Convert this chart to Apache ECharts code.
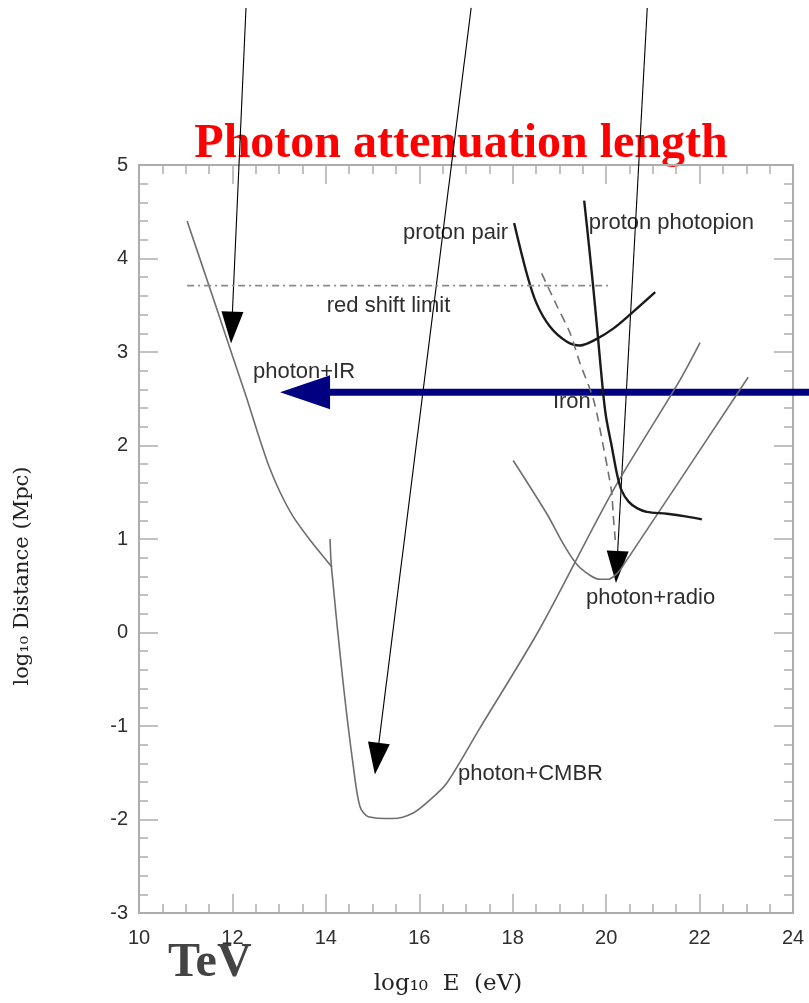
<!DOCTYPE html>
<html>
<head>
<meta charset="utf-8">
<script src="https://cdn.jsdelivr.net/npm/echarts@6/dist/echarts.min.js"></script>
<style>
  html, body { margin: 0; padding: 0; background: #fff; }
  #chart { width: 809px; height: 1003px; }
</style>
</head>
<body>
<div id="chart"></div>
<script>
// Energy (log10 eV) vs attenuation distance (log10 Mpc)
const photonIR = [
  [11.03, 4.40], [11.60, 3.56], [12.00, 2.96], [12.31, 2.50], [12.55, 2.12],
  [12.78, 1.78], [13.02, 1.50], [13.30, 1.24], [13.66, 0.99], [13.95, 0.81], [14.13, 0.70]
];
const photonCMBR = [
  [14.09, 1.00], [14.12, 0.70], [14.37, -0.54], [14.59, -1.44], [14.73, -1.86],
  [14.91, -1.97], [15.44, -1.99], [15.87, -1.93], [16.23, -1.79], [16.59, -1.61],
  [17.30, -1.02], [18.58, 0.04], [20.15, 1.52], [21.58, 2.70], [22.01, 3.10]
];
const photonRadio = [
  [18.01, 1.84], [18.73, 1.27], [19.08, 0.95], [19.37, 0.73], [19.66, 0.61],
  [19.87, 0.57], [20.05, 0.57], [20.23, 0.63], [20.37, 0.72], [23.04, 2.73]
];
const protonPair = [
  [18.03, 4.38], [18.30, 3.84], [18.51, 3.52], [18.80, 3.27], [19.16, 3.11],
  [19.44, 3.07], [19.80, 3.14], [20.15, 3.25], [20.51, 3.40], [21.05, 3.64]
];
const protonPhotopion = [
  [19.53, 4.62], [19.63, 4.15], [19.73, 3.66], [19.83, 3.13], [19.93, 2.59],
  [20.00, 2.30], [20.12, 1.99], [20.23, 1.70], [20.33, 1.52], [20.48, 1.40],
  [20.66, 1.33], [20.87, 1.29], [21.30, 1.27], [21.73, 1.24], [22.05, 1.21]
];
const iron = [
  [18.62, 3.84], [18.94, 3.50], [19.23, 3.20], [19.44, 2.88], [19.73, 2.49],
  [19.94, 1.99], [20.05, 1.70], [20.12, 1.49], [20.15, 1.27], [20.19, 1.02], [20.20, 0.95]
];
const redShiftLimit = [[11.03, 3.71], [20.04, 3.71]];

// Annotation arrows: [fromX, fromY, toX, toY]
const pointerArrows = [
  [12.29, 6.68, 11.97, 3.09],
  [17.11, 6.68, 15.05, -1.52],
  [20.88, 6.68, 20.21, 0.53]
];
const tevArrow = [[24.6, 2.57, 13.02, 2.57]];

// Curve labels: [x, y, text]
const curveLabels = [
  [15.65, 4.27, 'proton pair'],
  [19.63, 4.38, 'proton photopion'],
  [14.02, 3.49, 'red shift limit'],
  [12.44, 2.79, 'photon+IR'],
  [18.86, 2.47, 'Iron'],
  [19.57, 0.37, 'photon+radio'],
  [16.83, -1.51, 'photon+CMBR']
];

const chart = echarts.init(document.getElementById('chart'), null, { renderer: 'canvas' });

const frameColor = '#adadad';
const tickFont = { fontFamily: '"Liberation Sans", Arial, sans-serif', fontSize: 20, color: '#2e2e2e' };

function xAxisDef(pos, showLabel) {
  return {
    type: 'value', position: pos, min: 10, max: 24, interval: 2,
    axisLine: { show: true, onZero: false, lineStyle: { color: frameColor, width: 2 } },
    axisTick: { show: true, inside: true, length: 19, lineStyle: { color: frameColor, width: 1.5 } },
    minorTick: { show: true, splitNumber: 4, length: 9, lineStyle: { color: frameColor, width: 1.5 } },
    splitLine: { show: false },
    axisLabel: Object.assign({ show: showLabel, margin: 15 }, tickFont)
  };
}
function yAxisDef(pos, showLabel) {
  return {
    type: 'value', position: pos, min: -3, max: 5, interval: 1,
    axisLine: { show: true, onZero: false, lineStyle: { color: frameColor, width: 2 } },
    axisTick: { show: true, inside: true, length: 19, lineStyle: { color: frameColor, width: 1.5 } },
    minorTick: { show: true, splitNumber: 5, length: 9, lineStyle: { color: frameColor, width: 1.5 } },
    splitLine: { show: false },
    axisLabel: Object.assign({ show: showLabel, margin: 11 }, tickFont)
  };
}

function curve(name, data, color, width, type, smooth) {
  return {
    name: name, type: 'line', data: data, xAxisIndex: 0, yAxisIndex: 0,
    symbol: 'none', smooth: smooth === undefined ? 0.3 : smooth, clip: false, silent: true,
    lineStyle: { color: color, width: width, type: type || 'solid' }
  };
}

function arrowRenderer(lineWidth, headLen, headHalf, color) {
  return function (params, api) {
    const p0 = api.coord([api.value(0), api.value(1)]);
    const p1 = api.coord([api.value(2), api.value(3)]);
    const dx = p1[0] - p0[0], dy = p1[1] - p0[1];
    const len = Math.sqrt(dx * dx + dy * dy);
    const ux = dx / len, uy = dy / len;
    const bx = p1[0] - ux * headLen, by = p1[1] - uy * headLen;
    const nx = -uy, ny = ux;
    return {
      type: 'group',
      children: [
        { type: 'line', shape: { x1: p0[0], y1: p0[1], x2: bx + ux * 2, y2: by + uy * 2 },
          style: { stroke: color, lineWidth: lineWidth } },
        { type: 'polygon', shape: { points: [
            [p1[0], p1[1]],
            [bx + nx * headHalf, by + ny * headHalf],
            [bx - nx * headHalf, by - ny * headHalf]
          ] }, style: { fill: color } }
      ]
    };
  };
}

const option = {
  animation: false,
  backgroundColor: '#ffffff',
  grid: { left: 139, right: 16, top: 165, bottom: 90, containLabel: false },
  xAxis: [xAxisDef('bottom', true), xAxisDef('top', false)],
  yAxis: [yAxisDef('left', true), yAxisDef('right', false)],
  series: [
    curve('photon+IR', photonIR, '#6e6e6e', 1.6, 'solid', 0.2),
    curve('photon+CMBR', photonCMBR, '#6e6e6e', 1.6),
    curve('photon+radio', photonRadio, '#6e6e6e', 1.6),
    curve('proton pair', protonPair, '#1a1a1a', 2.4),
    curve('proton photopion', protonPhotopion, '#1a1a1a', 2.4),
    curve('Iron', iron, '#707070', 1.6, [9, 6]),
    curve('red shift limit', redShiftLimit, '#8a8a8a', 1.6, [7, 4, 2, 4], false),
    {
      name: 'labels', type: 'custom', data: curveLabels, clip: false, silent: true,
      renderItem: function (params, api) {
        const p = api.coord([api.value(0), api.value(1)]);
        return {
          type: 'text',
          style: {
            text: curveLabels[params.dataIndex][2], x: p[0], y: p[1],
            textAlign: 'left', textVerticalAlign: 'middle',
            font: '22px "Liberation Sans", Arial, sans-serif', fill: '#2e2e2e'
          }
        };
      }
    },
    {
      name: 'pointers', type: 'custom', data: pointerArrows, clip: false, silent: true,
      renderItem: arrowRenderer(1.1, 32, 11, '#000000')
    },
    {
      name: 'TeV arrow', type: 'custom', data: tevArrow, clip: false, silent: true,
      renderItem: arrowRenderer(7, 50, 17, '#000080')
    }
  ],
  graphic: [
    {
      type: 'text', x: 461, y: 169, silent: true,
      style: {
        text: 'Photon attenuation length', textAlign: 'center', textVerticalAlign: 'bottom',
        font: 'bold 48px "Liberation Serif", "Times New Roman", serif', fill: '#ff0000'
      }
    },
    {
      type: 'text', x: 448, y: 984, silent: true,
      style: {
        text: 'log₁₀  E  (eV)', textAlign: 'center', textVerticalAlign: 'middle',
        font: '23px "DejaVu Serif", serif', fill: '#222'
      }
    },
    {
      type: 'text', x: 23, y: 576, rotation: Math.PI / 2, silent: true,
      style: {
        text: 'log₁₀ Distance (Mpc)', textAlign: 'center', textVerticalAlign: 'middle',
        font: '21px "DejaVu Serif", serif', fill: '#222'
      }
    },
    {
      type: 'text', x: 168, y: 988, silent: true,
      style: {
        text: 'TeV', textAlign: 'left', textVerticalAlign: 'bottom',
        font: 'bold 48px "Liberation Serif", "Times New Roman", serif', fill: '#444'
      }
    }
  ]
};

chart.setOption(option);
</script>
</body>
</html>
